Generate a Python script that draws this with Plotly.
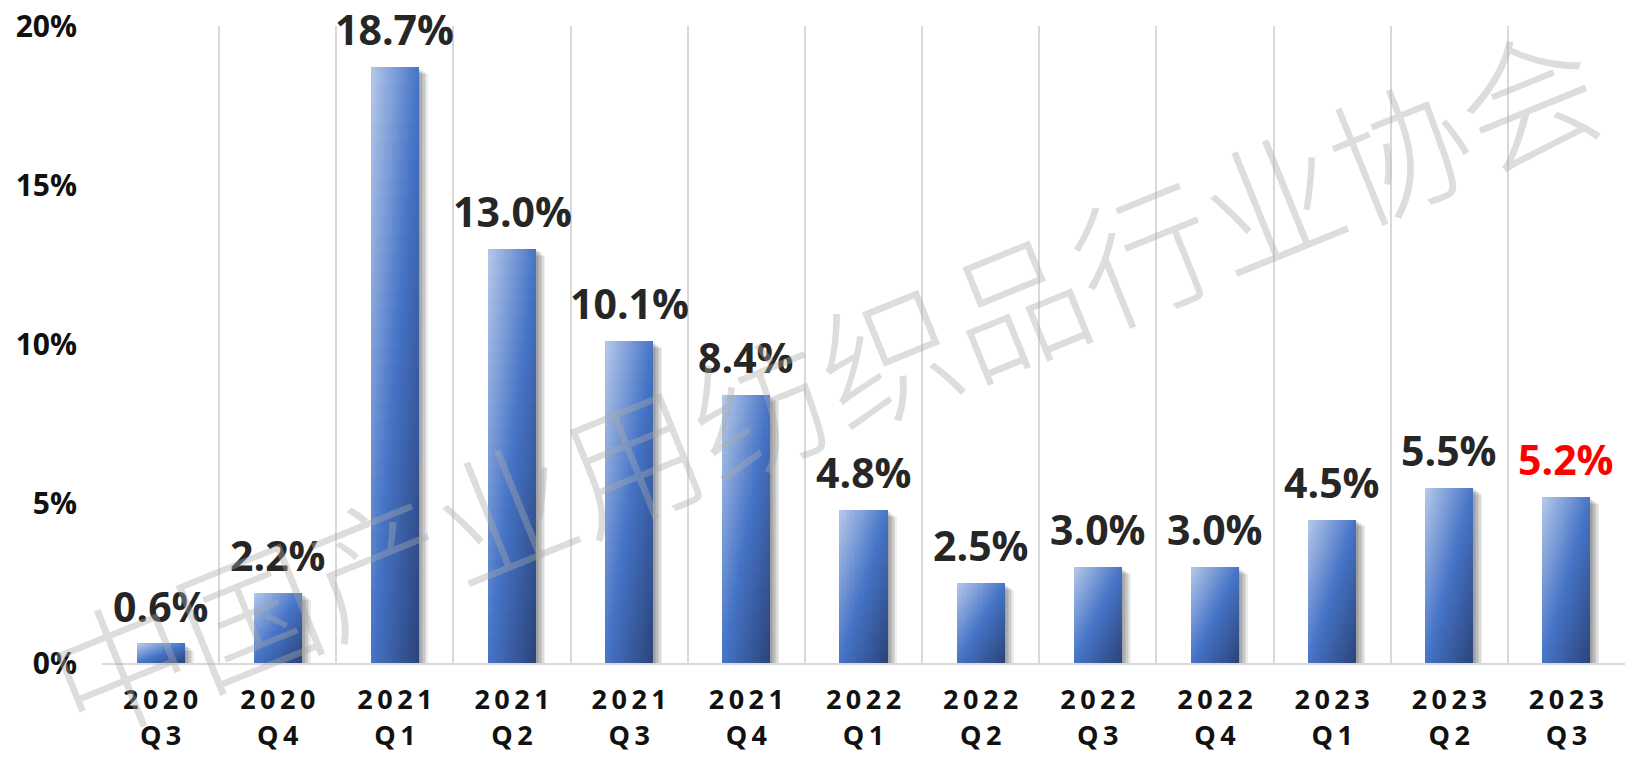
import plotly.graph_objects as go

# ---- data ----
years = ["2020", "2020", "2021", "2021", "2021", "2021", "2022", "2022", "2022", "2022", "2023", "2023", "2023"]
quarters = ["Q3", "Q4", "Q1", "Q2", "Q3", "Q4", "Q1", "Q2", "Q3", "Q4", "Q1", "Q2", "Q3"]
values = [0.6, 2.2, 18.7, 13.0, 10.1, 8.4, 4.8, 2.5, 3.0, 3.0, 4.5, 5.5, 5.2]
label_colors = ["#262626"] * 12 + ["#ff0000"]
y_ticks = [0, 5, 10, 15, 20]
y_ticktext = ["0%", "5%", "10%", "15%", "20%"]
watermark = "中国产业用纺织品行业协会"

categories = [f"{y} {q}" for y, q in zip(years, quarters)]
thin = "\u2009"
ticktext = [thin.join(y) + "<br>" + thin.join(q) for y, q in zip(years, quarters)]

# the page body has an 8px margin; size the figure to fit inside it
W, H = 1617, 742
ML, MR, MT, MB = 94, 0, 18, 87
plot_w = W - ML - MR
plot_h = H - MT - MB
px_x = len(categories) / plot_w      # data units per pixel (x)
px_y = 20.0 / plot_h                  # data units per pixel (y)

bar_w = 0.41

fig = go.Figure()

# ---- soft shadow ----
for d in [1.5, 3.0, 4.5, 6.0, 7.5, 9.0]:
    fig.add_trace(go.Bar(
        x=categories,
        y=[max(v - d * 0.5 * px_y, 0) for v in values],
        base=[-d * 0.25 * px_y] * len(values),
        width=bar_w,
        offset=-bar_w / 2 + d * px_x,
        marker=dict(color="rgba(0,0,0,0.075)", line=dict(width=0)),
        hoverinfo="skip", showlegend=False,
    ))

# ---- gradient bars (diagonal light top-left -> dark bottom-right) ----
stops = [(0.0, (182, 201, 233)), (0.5, (70, 116, 199)), (1.0, (42, 67, 122))]


def grad(t):
    for (t0, c0), (t1, c1) in zip(stops[:-1], stops[1:]):
        if t <= t1:
            f = (t - t0) / (t1 - t0)
            return "rgb(%d,%d,%d)" % tuple(round(a + (b - a) * f) for a, b in zip(c0, c1))
    return "rgb(%d,%d,%d)" % stops[-1][1]


N, M = 18, 32
for j in range(N):
    u = (j + 0.5) / N
    w = bar_w / N
    w_draw = w * (1.3 if j < N - 1 else 1.0)
    for k in range(M):
        v_top = 1 - (k + 0.5) / M   # fraction from top
        t = (u + v_top) / 2
        frac = 1.0 / M
        fig.add_trace(go.Bar(
            x=categories,
            y=[val * frac * (1.4 if k < M - 1 else 1.0) for val in values],
            base=[val * k * frac for val in values],
            width=w_draw,
            offset=-bar_w / 2 + j * w,
            marker=dict(color=grad(t), line=dict(width=0)),
            hoverinfo="skip", showlegend=False,
        ))

annotations = []
for c, v, col in zip(categories, values, label_colors):
    annotations.append(dict(
        x=c, y=v, xref="x", yref="y", text=f"{v:.1f}%", showarrow=False,
        yanchor="bottom", yshift=8,
        font=dict(family="Open Sans", size=41, color=col, weight="bold"),
    ))

# watermark (screen centre ~ (822, 377))
annotations.append(dict(
    x=(822 - 8 - ML) / plot_w, y=(MT + plot_h - (377 - 8)) / plot_h, xref="paper", yref="paper",
    text=watermark, showarrow=False, textangle=-22,
    font=dict(family="Noto Sans CJK SC", size=138, color="rgba(170,170,170,0.4)", weight=300),
))

fig.update_layout(
    width=W, height=H,
    margin=dict(l=ML, r=MR, t=MT, b=MB, pad=0),
    barmode="overlay",
    bargap=0,
    plot_bgcolor="white", paper_bgcolor="white",
    showlegend=False,
    annotations=annotations,
    xaxis=dict(
        type="category", categoryorder="array", categoryarray=categories,
        tickmode="array", tickvals=categories, ticktext=ticktext,
        tickson="boundaries", showgrid=True, gridcolor="#d9d9d9", gridwidth=1.5,
        showline=True, linecolor="#d9d9d9", linewidth=2,
        ticks="", ticklabelstandoff=12, ticklabeloverflow="allow", automargin=False,
        tickfont=dict(family="Open Sans", size=27, color="#111111", weight="bold"),
        range=[-0.5, len(categories) - 0.5],
    ),
    yaxis=dict(
        range=[0, 20], tickmode="array", tickvals=y_ticks, ticktext=y_ticktext,
        showgrid=False, zeroline=False, showline=False, ticks="",
        ticklabelstandoff=24, ticklabeloverflow="allow", automargin=False,
        tickfont=dict(family="Open Sans", size=30, color="#111111", weight="bold"),
    ),
)

fig.write_html("out.html")
